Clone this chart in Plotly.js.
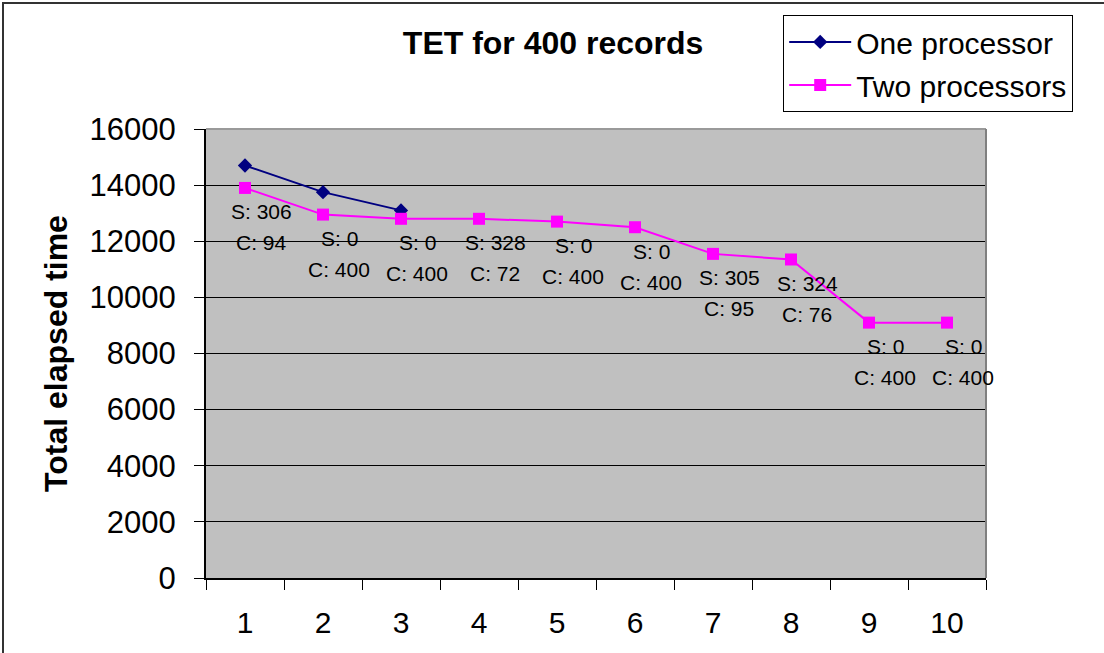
<!DOCTYPE html>
<html>
<head>
<meta charset="utf-8">
<script src="https://cdn.plot.ly/plotly-3.0.1.min.js"></script>
<style>
  html, body { margin: 0; padding: 0; background: #ffffff; }
  #wrap { position: relative; width: 1104px; height: 653px; overflow: hidden; }
  #chart { position: absolute; left: 0; top: 0; width: 1104px; height: 653px; }
  #frame { position: absolute; left: 2px; top: 2px; width: 1120px; height: 680px;
           border-left: 2px solid #333; border-top: 2px solid #333; pointer-events: none; }
</style>
</head>
<body>
<div id="wrap">
  <div id="chart"></div>
  <div id="frame"></div>
</div>
<script>
// ---- data ----
const categories = ['1', '2', '3', '4', '5', '6', '7', '8', '9', '10'];
const oneProcessor = [14700, 13750, 13100];
const twoProcessors = [13900, 12950, 12800, 12800, 12700, 12500, 11550, 11350, 9100, 9100];
const labelS = ['S: 306', 'S: 0', 'S: 0', 'S: 328', 'S: 0', 'S: 0', 'S: 305', 'S: 324', 'S: 0', 'S: 0'];
const labelC = ['C: 94', 'C: 400', 'C: 400', 'C: 72', 'C: 400', 'C: 400', 'C: 95', 'C: 76', 'C: 400', 'C: 400'];
const yTicks = [0, 2000, 4000, 6000, 8000, 10000, 12000, 14000, 16000];

const FONT = 'Liberation Sans, Arial, sans-serif';

const traces = [
  {
    name: 'One processor',
    legendgroup: 'one',
    x: categories.slice(0, oneProcessor.length),
    y: oneProcessor,
    type: 'scatter',
    mode: 'lines+markers',
    line: { color: '#000080', width: 2 },
    marker: { symbol: 'diamond', size: 11, color: '#000080' }
  },
  {
    name: 'Two processors',
    legendgroup: 'two',
    x: categories,
    y: twoProcessors,
    type: 'scatter',
    mode: 'lines+markers',
    line: { color: '#FF00FF', width: 2 },
    marker: { symbol: 'square', size: 12, color: '#FF00FF' }
  }
];

const annotations = [];
categories.forEach((c, i) => {
  annotations.push({
    x: i, y: twoProcessors[i], xref: 'x', yref: 'y',
    text: labelS[i], showarrow: false, xshift: 16, yshift: -24,
    font: { family: FONT, size: 21, color: '#000' }
  });
  annotations.push({
    x: i, y: twoProcessors[i], xref: 'x', yref: 'y',
    text: labelC[i], showarrow: false, xshift: 16, yshift: -55,
    font: { family: FONT, size: 21, color: '#000' }
  });
});

const layout = {
  width: 1104,
  height: 653,
  margin: { l: 206, r: 118, t: 129, b: 75, pad: 0 },
  paper_bgcolor: '#ffffff',
  plot_bgcolor: '#C0C0C0',
  font: { family: FONT, color: '#000' },
  title: {
    text: '<b>TET for 400 records</b>',
    font: { family: FONT, size: 32, color: '#000' },
    xref: 'container', x: 0.501, xanchor: 'center',
    yref: 'container', y: 0.934, yanchor: 'middle'
  },
  xaxis: {
    type: 'category',
    range: [-0.5, 9.5],
    tickson: 'boundaries',
    ticks: 'outside',
    ticklen: 10,
    tickwidth: 1,
    tickcolor: '#000',
    showgrid: false,
    showline: true,
    linecolor: '#000',
    linewidth: 2,
    tickfont: { family: FONT, size: 30, color: '#000' },
    ticklabelstandoff: 17,
    fixedrange: true
  },
  yaxis: {
    range: [0, 16000],
    tickvals: yTicks,
    ticktext: yTicks.map(String),
    ticks: 'outside',
    ticklen: 10,
    tickwidth: 1,
    tickcolor: '#000',
    showgrid: true,
    gridcolor: '#000',
    gridwidth: 1,
    zeroline: false,
    showline: true,
    linecolor: '#000',
    linewidth: 2,
    tickfont: { family: FONT, size: 31, color: '#000' },
    ticklabelstandoff: 12,
    title: {
      text: '<b>Total elapsed time</b>',
      font: { family: FONT, size: 32, color: '#000' },
      standoff: 12
    },
    fixedrange: true
  },
  legend: {
    x: 0.74, xanchor: 'left',
    y: 1.254, yanchor: 'top',
    bgcolor: '#ffffff',
    bordercolor: '#000',
    borderwidth: 1,
    font: { family: FONT, size: 30, color: '#000' },
    itemwidth: 62,
    traceorder: 'grouped',
    tracegroupgap: 1
  },
  showlegend: true,
  annotations: annotations,
  shapes: [
    { type: 'line', xref: 'paper', yref: 'paper', x0: 0, x1: 1, y0: 1, y1: 1,
      line: { color: '#9a9a9a', width: 2 }, layer: 'above' },
    { type: 'line', xref: 'paper', yref: 'paper', x0: 1, x1: 1, y0: 0, y1: 1,
      line: { color: '#808080', width: 2 }, layer: 'above' }
  ]
};

Plotly.newPlot('chart', traces, layout, { displayModeBar: false, staticPlot: true });
</script>
</body>
</html>
